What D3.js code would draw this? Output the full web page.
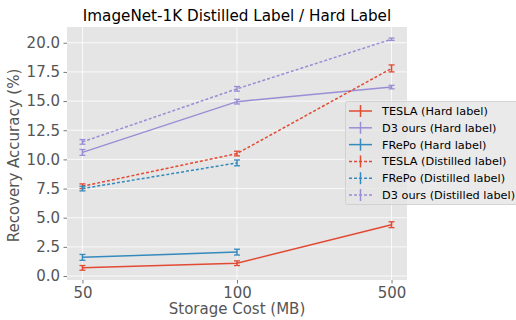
<!DOCTYPE html>
<html><head><meta charset="utf-8">
<script src="https://cdn.jsdelivr.net/npm/d3@7"></script>
<style>body{margin:0;background:#fff;}svg{display:block;font-family:"DejaVu Sans",sans-serif;}</style>
</head><body><svg id="c" width="516" height="320"></svg>
<script>
const categories = ["50", "100", "500"];
const yTicks = [0, 2.5, 5, 7.5, 10, 12.5, 15, 17.5, 20];
const teslaHard = [0.7, 1.1, 4.4];
const teslaHardErr = [0.2, 0.2, 0.25];
const d3Hard = [10.6, 14.95, 16.2];
const d3HardErr = [0.25, 0.2, 0.15];
const frepoHard = [1.6, 2.05];
const frepoHardErr = [0.25, 0.25];
const teslaDist = [7.7, 10.5, 17.8];
const teslaDistErr = [0.2, 0.2, 0.3];
const frepoDist = [7.5, 9.7];
const frepoDistErr = [0.2, 0.25];
const d3Dist = [11.5, 16.05, 20.3];
const d3DistErr = [0.2, 0.2, 0.1];

const series = [
  {name:"TESLA (Hard label)", v:teslaHard, e:teslaHardErr, color:"#E24A33", dash:null},
  {name:"D3 ours (Hard label)", v:d3Hard, e:d3HardErr, color:"#988ED5", dash:null},
  {name:"FRePo (Hard label)", v:frepoHard, e:frepoHardErr, color:"#348ABD", dash:null},
  {name:"TESLA (Distilled label)", v:teslaDist, e:teslaDistErr, color:"#E24A33", dash:"3,2"},
  {name:"FRePo (Distilled label)", v:frepoDist, e:frepoDistErr, color:"#348ABD", dash:"3,2"},
  {name:"D3 ours (Distilled label)", v:d3Dist, e:d3DistErr, color:"#988ED5", dash:"3,2"}
];

const svg = d3.select("#c");
const L = 67, R = 407, T = 27, B = 280;
const x = d3.scalePoint().domain(categories).range([L, R]).padding(0.1);
const y = d3.scaleLinear().domain([-0.34, 21.35]).range([B, T]);

svg.append("rect").attr("x", L).attr("y", T).attr("width", R - L).attr("height", B - T).attr("fill", "#E5E5E5");

// grid
svg.append("g").selectAll("line").data(yTicks).join("line")
  .attr("x1", L).attr("x2", R).attr("y1", d => y(d)).attr("y2", d => y(d))
  .attr("stroke", "#fff").attr("stroke-width", 0.8);
svg.append("g").selectAll("line").data(categories).join("line")
  .attr("y1", T).attr("y2", B).attr("x1", d => x(d)).attr("x2", d => x(d))
  .attr("stroke", "#fff").attr("stroke-width", 0.8);

// axes
const yAxis = svg.append("g").attr("transform", `translate(${L},0)`)
  .call(d3.axisLeft(y).tickValues(yTicks).tickFormat(d3.format(".1f")).tickSize(3.5).tickPadding(3.5));
const xAxis = svg.append("g").attr("transform", `translate(0,${B})`)
  .call(d3.axisBottom(x).tickSize(3.5).tickPadding(3.5));
[yAxis, xAxis].forEach(a => {
  a.select(".domain").remove();
  a.selectAll("line").attr("stroke", "#555").attr("stroke-width", 0.8);
  a.selectAll("text").attr("fill", "#555").attr("font-size", 15).attr("font-family", "DejaVu Sans");
});

// lines
const line = d3.line().x((d, i) => x(categories[i])).y(d => y(d));
series.forEach(s => {
  const g = svg.append("g");
  g.append("path").datum(s.v).attr("d", line).attr("fill", "none")
    .attr("stroke", s.color).attr("stroke-width", 1.5)
    .attr("stroke-dasharray", s.dash);
  s.v.forEach((v, i) => {
    const cx = x(categories[i]);
    g.append("line").attr("x1", cx).attr("x2", cx).attr("y1", y(v - s.e[i])).attr("y2", y(v + s.e[i]))
      .attr("stroke", s.color).attr("stroke-width", 1.5);
    [v - s.e[i], v + s.e[i]].forEach(c => g.append("line")
      .attr("x1", cx - 3).attr("x2", cx + 3).attr("y1", y(c)).attr("y2", y(c))
      .attr("stroke", s.color).attr("stroke-width", 1.3));
  });
});

// title and labels
svg.append("text").attr("x", (L + R) / 2).attr("y", 21).attr("text-anchor", "middle")
  .attr("font-size", 15.2).attr("fill", "#000").text("ImageNet-1K Distilled Label / Hard Label");
svg.append("text").attr("x", (L + R) / 2).attr("y", 314).attr("text-anchor", "middle")
  .attr("font-size", 15).attr("fill", "#555").text("Storage Cost (MB)");
svg.append("text").attr("transform", `translate(19,${(T + B) / 2 + 2}) rotate(-90)`).attr("text-anchor", "middle")
  .attr("font-size", 15).attr("fill", "#555").text("Recovery Accuracy (%)");

// legend
const lg = svg.append("g");
lg.append("rect").attr("x", 345.5).attr("y", 101.5).attr("width", 180).attr("height", 103).attr("rx", 2)
  .attr("fill", "#E5E5E5").attr("fill-opacity", 0.8).attr("stroke", "#CCCCCC").attr("stroke-width", 0.8);
series.forEach((s, i) => {
  const yy = 111 + i * 16.8;
  lg.append("line").attr("x1", 349).attr("x2", 372).attr("y1", yy).attr("y2", yy)
    .attr("stroke", s.color).attr("stroke-width", 1.5).attr("stroke-dasharray", s.dash);
  lg.append("line").attr("x1", 360.5).attr("x2", 360.5).attr("y1", yy - 6).attr("y2", yy + 6)
    .attr("stroke", s.color).attr("stroke-width", 1.5);
  lg.append("text").attr("x", 382).attr("y", yy + 4).attr("font-size", 11.3).attr("fill", "#000").text(s.name);
});
</script></body></html>
